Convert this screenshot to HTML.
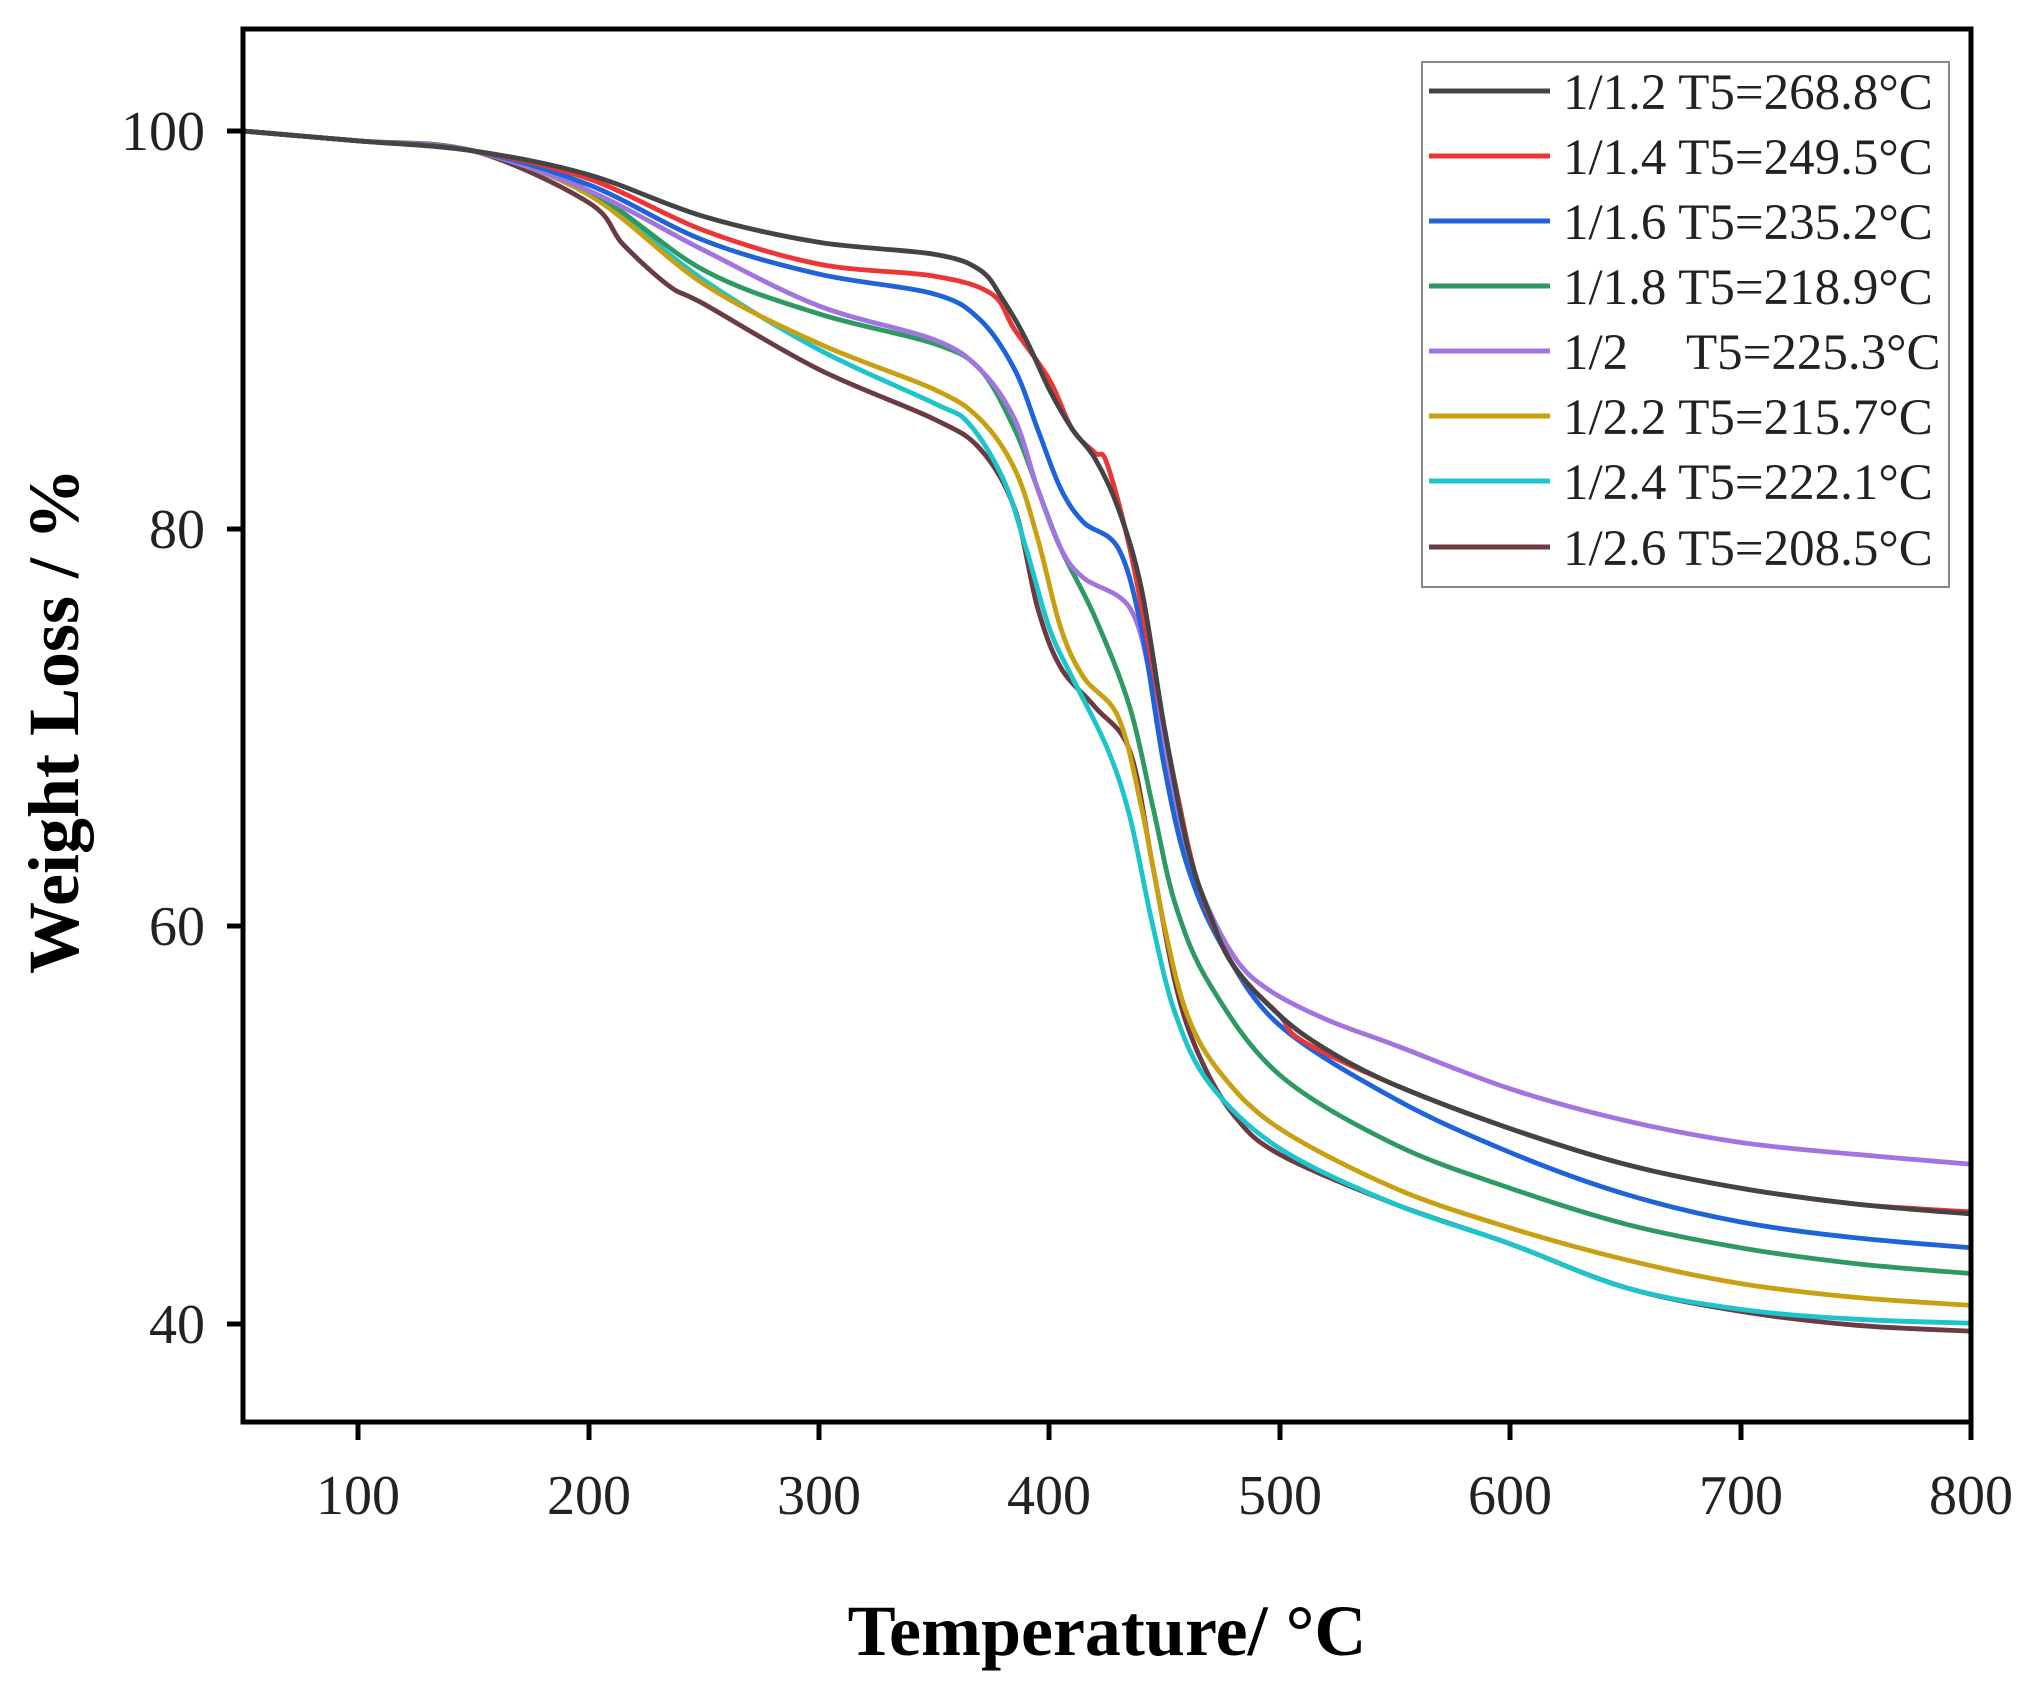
<!DOCTYPE html>
<html><head><meta charset="utf-8"><style>
html,body{margin:0;padding:0;background:#fff;}
svg{display:block;}
text{font-family:"Liberation Serif",serif;fill:#222;}
</style></head><body>
<svg id="s" width="2037" height="1684" viewBox="0 0 2037 1684" xmlns="http://www.w3.org/2000/svg">
<rect width="2037" height="1684" fill="#fff"/>
<g id="curves" fill="none" stroke-width="4.8" stroke-linejoin="round" stroke-linecap="round"></g>
<rect x="243" y="29" width="1728" height="1393" fill="none" stroke="#000" stroke-width="5"/>
<g stroke="#000" stroke-width="5">
<line x1="227" y1="131" x2="243" y2="131"/><line x1="227" y1="529" x2="243" y2="529"/>
<line x1="227" y1="926" x2="243" y2="926"/><line x1="227" y1="1324" x2="243" y2="1324"/>
<line x1="358" y1="1422" x2="358" y2="1440"/><line x1="589" y1="1422" x2="589" y2="1440"/>
<line x1="819" y1="1422" x2="819" y2="1440"/><line x1="1049" y1="1422" x2="1049" y2="1440"/>
<line x1="1280" y1="1422" x2="1280" y2="1440"/><line x1="1510" y1="1422" x2="1510" y2="1440"/>
<line x1="1741" y1="1422" x2="1741" y2="1440"/><line x1="1971" y1="1422" x2="1971" y2="1440"/>
</g>
<g font-size="56" text-anchor="end">
<text x="205" y="150">100</text><text x="205" y="548">80</text>
<text x="205" y="945">60</text><text x="205" y="1343">40</text>
</g>
<g font-size="56" text-anchor="middle">
<text x="358" y="1514">100</text><text x="589" y="1514">200</text><text x="819" y="1514">300</text>
<text x="1049" y="1514">400</text><text x="1280" y="1514">500</text><text x="1510" y="1514">600</text>
<text x="1741" y="1514">700</text><text x="1971" y="1514">800</text>
</g>
<text x="1107" y="1655" font-size="72" font-weight="bold" text-anchor="middle" style="fill:#000">Temperature/ °C</text>
<text transform="translate(78,721) rotate(-90)" font-size="72" font-weight="bold" text-anchor="middle" style="fill:#000">Weight Loss / %</text>
<rect x="1422" y="62" width="527" height="525" fill="#fff" stroke="#888" stroke-width="2"/>
<g stroke-width="5">
<line x1="1429" y1="91" x2="1550" y2="91" stroke="#444"/>
<line x1="1429" y1="156" x2="1550" y2="156" stroke="#ee3535"/>
<line x1="1429" y1="221" x2="1550" y2="221" stroke="#1f63d8"/>
<line x1="1429" y1="286" x2="1550" y2="286" stroke="#2e9a62"/>
<line x1="1429" y1="351" x2="1550" y2="351" stroke="#a274e0"/>
<line x1="1429" y1="416" x2="1550" y2="416" stroke="#c8a012"/>
<line x1="1429" y1="481" x2="1550" y2="481" stroke="#1cc4cc"/>
<line x1="1429" y1="547" x2="1550" y2="547" stroke="#6b3a42"/>
</g>
<g font-size="51">
<text x="1563" y="109">1/1.2 T5=268.8°C</text>
<text x="1563" y="174">1/1.4 T5=249.5°C</text>
<text x="1563" y="239">1/1.6 T5=235.2°C</text>
<text x="1563" y="304">1/1.8 T5=218.9°C</text>
<text x="1563" y="369">1/2</text><text x="1686" y="369">T5=225.3°C</text>
<text x="1563" y="434">1/2.2 T5=215.7°C</text>
<text x="1563" y="499">1/2.4 T5=222.1°C</text>
<text x="1563" y="565">1/2.6 T5=208.5°C</text>
</g>
</svg>
<script>
var X=function(t){return 243+(t-50)*2.3033;},Y=function(w){return 131+(100-w)*19.87;};
var base=[[50,100],[100,99.5],[150,99]];
var S=[
["#6b3a42",[[200,96.4],[215,94.3],[235,92.2],[250,91.3],[300,88],[350,85.5],[370,84],[385,81],[395,76],[405,73],[420,71],[435,68.8],[445,63],[455,57],[465,53.5],[480,50.5],[500,48.5],[550,46],[600,44],[650,41.8],[700,40.6],[750,39.9],[800,39.6]]],
["#1cc4cc",[[200,96.8],[250,92.5],[300,89],[350,86.3],[365,85.3],[380,82.5],[390,79],[400,75],[410,72.5],[425,69],[435,65.5],[445,60],[455,55.5],[470,52],[500,48.8],[550,46],[600,44],[650,41.8],[700,40.7],[750,40.2],[800,40]]],
["#c8a012",[[200,96.8],[250,92.3],[300,89.3],[350,87],[370,85.5],[385,83],[395,79.5],[405,75],[415,72.5],[430,70.5],[440,66],[450,60],[460,55.5],[475,52.5],[500,49.8],[550,46.8],[600,44.8],[650,43.2],[700,42],[750,41.3],[800,40.9]]],
["#2e9a62",[[200,97],[250,93],[300,90.8],[350,89.3],[370,88],[385,85],[395,82],[405,79],[420,75.5],[435,71],[445,66],[455,61],[470,57],[500,52.5],[550,49],[600,46.8],[650,45],[700,43.8],[750,43],[800,42.5]]],
["#a274e0",[[200,97],[250,94],[300,91.2],[350,89.5],[370,88],[385,85.5],[395,82],[405,79],[415,77.5],[435,76],[445,72],[455,66],[465,62],[480,58.5],[495,56.8],[520,55.3],[550,54],[600,51.8],[650,50.2],[700,49.1],[750,48.5],[800,48]]],
["#1f63d8",[[200,97.3],[250,94.5],[300,92.8],[350,91.8],[370,90.5],[385,88],[395,85],[405,82],[415,80.3],[430,79],[440,75],[450,68],[460,63],[475,59],[500,55],[550,51.3],[600,48.6],[650,46.5],[700,45.1],[750,44.3],[800,43.8]]],
["#ee3535",[[200,97.6],[250,95],[300,93.3],[350,92.7],[375,91.8],[385,90],[400,87.5],[410,85],[420,83.8],[425,83.3],[435,79],[445,73],[455,67],[465,62],[480,58],[500,55.5],[510,54.2],[550,52],[600,49.8],[650,48],[700,46.8],[750,46],[800,45.6]]],
["#444444",[[200,97.8],[250,95.7],[300,94.4],[350,93.8],[370,93],[380,91.5],[390,89.5],[400,87],[410,85],[420,83.5],[430,81],[440,77],[450,70],[460,64],[470,60.5],[480,58],[500,55.5],[520,53.8],[550,52],[600,49.8],[650,48],[700,46.8],[750,46],[800,45.5]]]
];
var g=document.getElementById('curves'),ns='http://www.w3.org/2000/svg';
S.forEach(function(s){
 var p=base.concat(s[1]).map(function(a){return [X(a[0]),Y(a[1])];});
 var d='M'+p[0][0].toFixed(1)+','+p[0][1].toFixed(1);
 for(var i=0;i<p.length-1;i++){
  var p0=p[Math.max(0,i-1)],p1=p[i],p2=p[i+1],p3=p[Math.min(p.length-1,i+2)];
  var c1=[p1[0]+(p2[0]-p0[0])/6,p1[1]+(p2[1]-p0[1])/6],c2=[p2[0]-(p3[0]-p1[0])/6,p2[1]-(p3[1]-p1[1])/6];
  d+='C'+c1[0].toFixed(1)+','+c1[1].toFixed(1)+' '+c2[0].toFixed(1)+','+c2[1].toFixed(1)+' '+p2[0].toFixed(1)+','+p2[1].toFixed(1);
 }
 var e=document.createElementNS(ns,'path');e.setAttribute('d',d);e.setAttribute('stroke',s[0]);g.appendChild(e);
});
</script>
</body></html>
